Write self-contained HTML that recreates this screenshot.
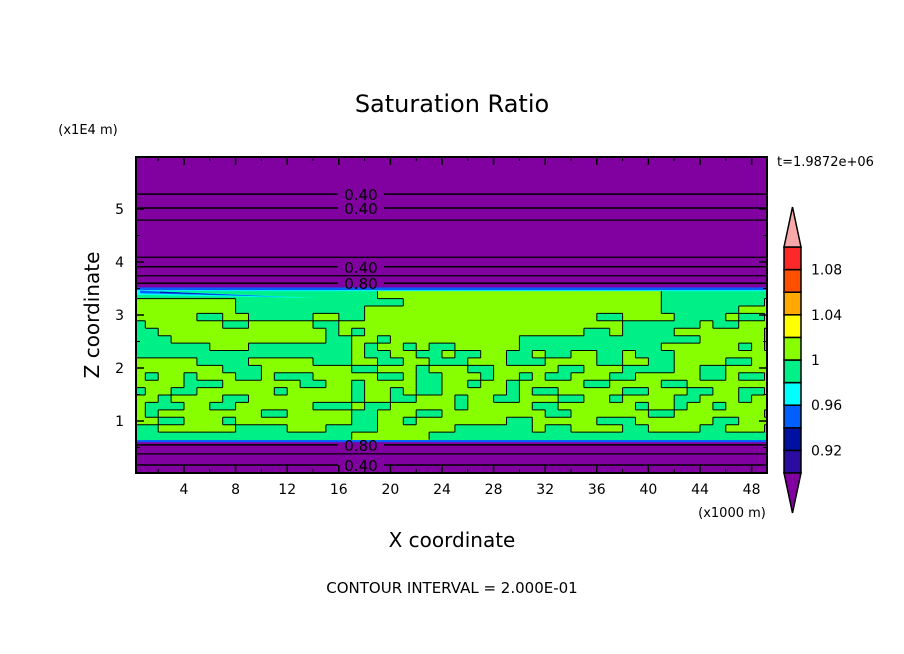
<!DOCTYPE html>
<html><head><meta charset="utf-8"><style>
body{margin:0;background:#fff;width:904px;height:654px;overflow:hidden}
svg{display:block}
text{font-family:"DejaVu Sans","Liberation Sans",sans-serif;fill:#000}
</style></head><body>
<svg id="c" width="904" height="654" xmlns="http://www.w3.org/2000/svg">
<text x="452" y="112" font-size="24" text-anchor="middle">Saturation Ratio</text>
<text x="88" y="134" font-size="13" text-anchor="middle">(x1E4 m)</text>
<text x="777" y="166" font-size="13">t=1.9872e+06</text>
<text x="732" y="517" font-size="13" text-anchor="middle">(x1000 m)</text>
<text x="452" y="547" font-size="20" text-anchor="middle">X coordinate</text>
<text transform="translate(99,315) rotate(-90)" font-size="20" text-anchor="middle">Z coordinate</text>
<text x="452" y="593" font-size="15" text-anchor="middle">CONTOUR INTERVAL = 2.000E-01</text>
<defs><clipPath id="pc"><rect x="136" y="157" width="631" height="316"/></clipPath></defs>
<g id="plot" clip-path="url(#pc)"></g>
<g id="axes"></g>
<g id="cbar"></g>
</svg>
<script>
const xTicks=[4,8,12,16,20,24,28,32,36,40,44,48];
const zTicks=[1,2,3,4,5];
const cbLevels=[0.92,0.94,0.96,0.98,1.00,1.02,1.04,1.06,1.08];
const cbLabels=["0.92","0.96","1","1.04","1.08"];
const cbLabelVals=[0.92,0.96,1.00,1.04,1.08];
const bandColors=["#2a0ca0","#0010a0","#0060ff","#00ffff","#00f088","#88ff00","#ffff00","#ffa800","#ff5000","#ff2828"];
const lineZ=[5.28,5.02,4.79,4.09,3.91,3.74,3.60,0.55,0.38,0.17];
const lineLabels=["0.40","0.40","","","0.40","","0.80","0.80","","0.40"];
const gridX0=0, gridDX=1, gridZTop=3.45, gridDZ=0.14, gridCols=50;
const gridRows=[
"gggggggggggggggggggyyyyyyyyyyyyyyyyyyyyyyggggggggg",
"yyyyyyyygggggggggggggyyyyyyyyyyyyyyyyyyyyggggggggyy",
"yyyyyyyyggggggggggyyyyyyyyyyyyyyyyyyyyyyyggggggyyy",
"yyyyyggyygggggyyggyyyyyyyyyyyyyyyyyyggyyyyggggyggy",
"gyyyyyyggyyyyyggyyyyyyyyyyyyyyyyyyyyyyggggggyggyyy",
"ggyyyyyyyyyyyyygygyyyyyyyyyyyyyyyyyggyggggyyyyyyyg",
"gggyyyyyyyyyyyyggyygyyyyyyyyyyggggggggggggggyyyyyg",
"ggggggyyyggggggggygyygyggyyyyygggggggggggyyyyyygyg",
"gggggggggggggggggyggyyggyggyyggyggyyggygggyyyyyyyy",
"yyyyyggggyyyyygggyyggyygggyyygggyyyyggyyggyyyyggyy",
"yyyyyyygggyyyyyyyggyyygyyyggyyyyyggyyyggggyyggyyyy",
"ygyygyyyggygggyyyyyggyggyyygyygyggyyyggyyyyyggyggy",
"yyyygggyyyyyyggyygyyyyggyygyygyyyyyggyyyyggyyyyyyy",
"gyyggyyyyyygyyyyygyygyggyyyyygyggyyyyyggyyyggyyggy",
"yygyyyyggyyyyyyyygyyggyyygyyggyyyggyygyyyyggyyygyy",
"ygggyyggyyyyyygggyggyyyyygyyyyyggyyyyyygyygyygyyyy",
"ygyyyyyyyyggyyyyyggyyyggyyyyyyyyggyyyyyyggyyyyyyyg",
"yyggyyygyyyyyyyyyggyygyyyyyyyggyyyyygggyyyyyyggyyy",
"ggyyyyyyggggyyyggggyyyyyyggggggyggyyyyggyyyyggyyyg",
"gggggggggggggggggyyyyyyggggggggggggggggggggggggggg"];
const gridVals=gridRows.map(r=>{const a=r.padEnd(gridCols,'g').slice(0,gridCols);return a.split('').map(ch=>ch==='y'?1.01:0.99);});

const NS="http://www.w3.org/2000/svg";
const xs=v=>132.4+v*12.9;
const zs=v=>474-v*53;
function mk(tag,attrs,parent){const e=document.createElementNS(NS,tag);for(const k in attrs)e.setAttribute(k,attrs[k]);parent.appendChild(e);return e;}
function colorFor(v){let i=0;while(i<cbLevels.length&&v>=cbLevels[i])i++;return bandColors[Math.min(i,bandColors.length-1)];}
const plot=document.getElementById('plot'),axes=document.getElementById('axes'),cbar=document.getElementById('cbar');

let bg=mk('rect',{x:136,y:157,width:631,height:316,fill:"#8000a0"},plot);


let de=mk('rect',{x:136,y:zs(3.52),width:631,height:zs(3.47)-zs(3.52),fill:"#0060ff"},plot);


let ce=mk('rect',{x:136,y:zs(3.47),width:631,height:zs(gridZTop)-zs(3.47)+0.5,fill:"#00ffff"},plot);


let be=mk('rect',{x:136,y:zs(0.65),width:631,height:zs(0.6)-zs(0.65),fill:"#0060ff"},plot);


const nR=gridVals.length;
gridVals.forEach((row,ri)=>{row.forEach((v,ci)=>{
 const x0=xs(gridX0+ci*gridDX),x1=xs(gridX0+(ci+1)*gridDX);
 const zT=gridZTop-ri*gridDZ,zB=zT-gridDZ;
 const r=mk('rect',{x:x0,y:zs(zT),width:x1-x0+0.5,height:zs(zB)-zs(zT)+0.5,fill:colorFor(v)},plot);
 
 
});});
let st=mk('path',{d:`M136 ${zs(3.47)} L320 ${zs(3.32)} L136 ${zs(3.38)} Z`,fill:"#00ffff"},plot);


let st1=mk('path',{d:`M140 ${zs(3.46)} L290 ${zs(3.34)} L140 ${zs(3.41)} Z`,fill:"#0060ff"},plot);


let st2=mk('path',{d:`M160 ${zs(3.44)} L240 ${zs(3.37)} L160 ${zs(3.42)} Z`,fill:"#0010a0"},plot);


let d="";
gridVals.forEach((row,ri)=>{row.forEach((v,ci)=>{
 const x0=xs(gridX0+ci*gridDX),x1=xs(gridX0+(ci+1)*gridDX);
 const zT=gridZTop-ri*gridDZ,zB=zT-gridDZ;
 if(ci+1<row.length&&row[ci+1]!==v)d+=`M${x1.toFixed(1)} ${zs(zT).toFixed(1)}V${zs(zB).toFixed(1)}`;
 if(ri+1<nR&&gridVals[ri+1][ci]!==v)d+=`M${x0.toFixed(1)} ${zs(zB).toFixed(1)}H${x1.toFixed(1)}`;
});});
let cl=mk('path',{d:d,stroke:"#000","stroke-width":1,fill:"none"},plot);


lineZ.forEach((z,i)=>{
 const y=zs(z),lab=lineLabels[i];
 if(lab){
  const l1=mk('line',{x1:136,y1:y,x2:338,y2:y,stroke:"#000","stroke-width":1.5},plot);
  
  
  const l2=mk('line',{x1:384,y1:y,x2:767,y2:y,stroke:"#000","stroke-width":1.5},plot);
  
  
  const t=mk('text',{x:361,y:y+6,"font-size":15,"text-anchor":"middle"},plot);
  t.textContent=lab;
  
  
 }else{
  const l=mk('line',{x1:136,y1:y,x2:767,y2:y,stroke:"#000","stroke-width":1.2},plot);
  
  
 }
});
let fr=mk('rect',{x:136,y:157,width:631,height:316,fill:"none",stroke:"#000","stroke-width":2},axes);


xTicks.forEach(v=>{
 const x=xs(v);
 mk('line',{x1:x,y1:473,x2:x,y2:465,stroke:"#000","stroke-width":1.5},axes);
 mk('line',{x1:x,y1:157,x2:x,y2:165,stroke:"#000","stroke-width":1.5},axes);
 mk('line',{x1:xs(v-2),y1:473,x2:xs(v-2),y2:469,stroke:"#000"},axes);
 mk('line',{x1:xs(v-2),y1:157,x2:xs(v-2),y2:161,stroke:"#000"},axes);
 const t=mk('text',{x:x,y:494,"font-size":14,"text-anchor":"middle"},axes);
 t.textContent=v;
 
 
});
zTicks.forEach(v=>{
 const y=zs(v);
 mk('line',{x1:136,y1:y,x2:144,y2:y,stroke:"#000","stroke-width":1.5},axes);
 mk('line',{x1:767,y1:y,x2:759,y2:y,stroke:"#000","stroke-width":1.5},axes);
 mk('line',{x1:136,y1:zs(v-0.5),x2:140,y2:zs(v-0.5),stroke:"#000"},axes);
 mk('line',{x1:767,y1:zs(v-0.5),x2:763,y2:zs(v-0.5),stroke:"#000"},axes);
 const t=mk('text',{x:124,y:y+5,"font-size":14,"text-anchor":"end"},axes);
 t.textContent=v;
 
 
});
const cbX=784,cbW=17,cbTop=247,cbBot=473,bh=(cbBot-cbTop)/bandColors.length;
bandColors.forEach((c,i)=>{
 const y=cbBot-(i+1)*bh;
 const r=mk('rect',{x:cbX,y:y,width:cbW,height:bh,fill:c,stroke:"#000","stroke-width":1.5},cbar);
 
 
});
let tt=mk('path',{d:`M${cbX} ${cbTop} L${cbX+cbW/2} 207 L${cbX+cbW} ${cbTop} Z`,fill:"#f8a8a8",stroke:"#000","stroke-width":1.5},cbar);


let bt=mk('path',{d:`M${cbX} ${cbBot} L${cbX+cbW/2} 513 L${cbX+cbW} ${cbBot} Z`,fill:"#8000a0",stroke:"#000","stroke-width":1.5},cbar);


cbLabelVals.forEach((v,i)=>{
 const idx=cbLevels.indexOf(v);
 const y=cbBot-(idx+1)*bh;
 const t=mk('text',{x:811,y:y+5,"font-size":14},cbar);
 t.textContent=cbLabels[i];
 
 
});
</script>
</body></html>
